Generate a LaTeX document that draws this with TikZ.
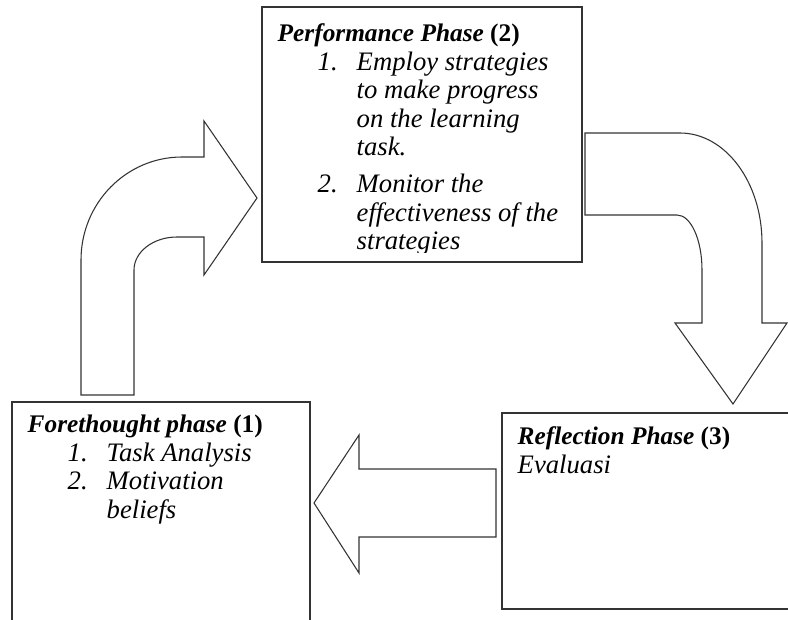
\documentclass[tikz,border=0pt]{standalone}
\usepackage{fontspec}
\setmainfont{Liberation Serif}
\usetikzlibrary{
	positioning,
	fit,
}
\tikzset{phasebox/.style={
		% The shape:
		rectangle,
		% The border:
		draw=black!80, line width=0.8pt,
		% no padding round the fitted points
		inner sep=0pt,
}}
\tikzset{phasetext/.style={
		% make sure text aligns properly
		inner sep=0pt, align=left,
		% Times-like text
		font=\fontsize{20}{21.3}\selectfont,
}}
\tikzset{blockarrow/.style={
		% The border:
		draw=black!80, line width=0.8pt, line join=miter,
		% The filling:
		fill=white,
}}
% title of a phase, numbered line and its continuation (hanging indent)
\newcommand{\phasetitle}[2]{{\fontsize{19}{21.3}\selectfont\strut\textbf{\textit{#1}} \textbf{#2}}}
\newcommand{\numline}[2]{\hspace*{30pt}\makebox[29.25pt][l]{\textit{#1}}\textit{#2}}
\newcommand{\contline}[1]{\hspace*{59.25pt}\textit{#1}}

\begin{document}
\begin{tikzpicture}[x=0.75pt,y=-0.75pt]
	\useasboundingbox (0,0) rectangle (788,620);
	\clip (0,0) rectangle (788,620);
	% the three phases
	\node[phasebox, fit={(262,7) (582,262)}] (perf) {};
	\node[phasebox, fit={(12,402) (310,640)}] (fore) {};
	\node[phasebox, fit={(502,413) (800,609)}] (refl) {};
	\begin{scope}
		\clip (perf.north west) rectangle ([yshift=7.5pt]perf.south east);
		\node[phasetext, below right=11.5pt and 12pt of perf.north west] (perftext) {\phasetitle{Performance Phase}{(2)}\\
			\numline{1.}{Employ strategies}\\
			\contline{to make progress}\\
			\contline{on the learning}\\
			\contline{task.}\\[6.5pt]
			\numline{2.}{Monitor the}\\
			\contline{effectiveness of the}\\
			\contline{strategies}};
	\end{scope}
	\node[phasetext, below right=8.5pt and 12pt of fore.north west] (foretext) {\phasetitle{Forethought phase}{(1)}\\
		\numline{1.}{Task Analysis}\\
		\numline{2.}{Motivation}\\
		\contline{beliefs}};
	\node[phasetext, below right=9pt and 12pt of refl.north west] (refltext) {\phasetitle{Reflection Phase}{(3)}\\
		\textit{Evaluasi}};
	% block arrows
	\draw[blockarrow] (81,395) -- (81,260) .. controls (81,203.1) and (126.2,157) .. (182,157) -- (204,157) -- (204,121) -- (257,198) -- (204,275) -- (204,237) -- (177,237) .. controls (153.3,237) and (134,251.8) .. (134,270) -- (134,395) -- cycle;
	\draw[blockarrow] (585,133) -- (680,133) .. controls (725.3,133) and (762,182.2) .. (762,243) -- (762,323) -- (787,323) -- (733,404) -- (675,323) -- (702,323) -- (702,270) .. controls (702,239.6) and (690.8,215) .. (677,215) -- (585,215) -- cycle;
	\draw[blockarrow] (496,469) -- (359,469) -- (359,435) -- (314,503) -- (359,573) -- (359,537) -- (496,537) -- cycle;
\end{tikzpicture}
\end{document}
